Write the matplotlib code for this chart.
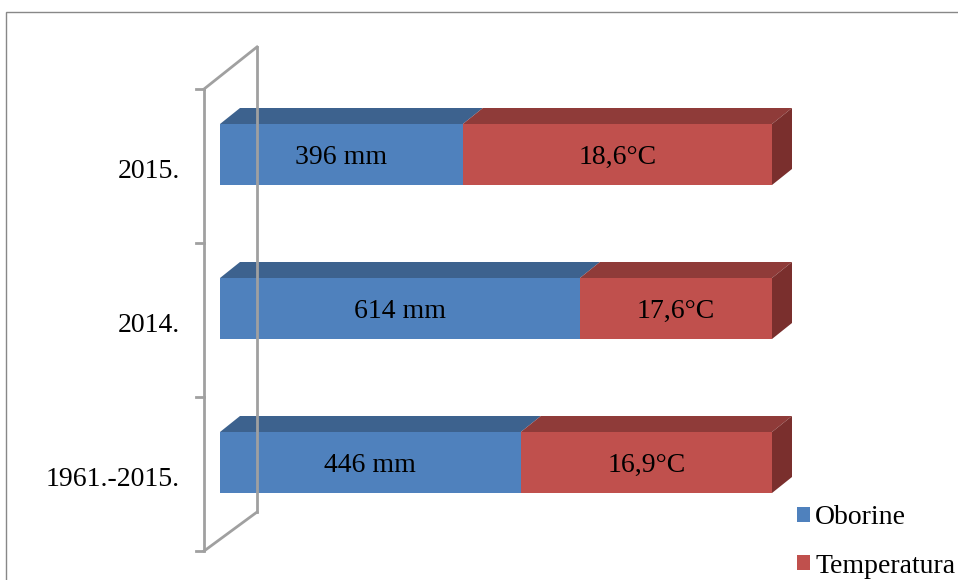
import matplotlib.pyplot as plt
from matplotlib.patches import Polygon, Rectangle, Patch

plt.rcParams['font.family'] = ['Liberation Serif', 'DejaVu Serif']

# data (bottom to top), shares of the 100% stacked bar
categories = ['1961.-2015.', '2014.', '2015.']
oborine_share = [0.545, 0.652, 0.44]
oborine_labels = ['446 mm', '614 mm', '396 mm']
temp_labels = ['16,9°C', '17,6°C', '18,6°C']
series_names = ['Oborine', 'Temperatura']

blue = ['#4F81BD', '#3D628E', '#3D628E']
red = ['#C0504D', '#8F3B39', '#7A2F2D']
wall_col = '#A0A0A0'

W, H = 958, 580
fig = plt.figure(figsize=(W / 100, H / 100), dpi=100)
ax = fig.add_axes([0, 0, 1, 1])
# pixel mapping: share 0 -> x=220, 1 -> x=772 ; category step = 154 px
x0, x1 = 220, 772
sx = x1 - x0
cy0, step = 462.5, 154
ax.set_xlim(-x0 / sx, (W - x0) / sx)
ax.set_ylim((cy0 - H) / step, cy0 / step)
ax.axis('off')

bh = 61 / step
dx, dy = 20 / sx, 16 / step

# wall
wfx, wbx = -16 / sx, 37 / sx
wfy = -0.075
bot, top = -0.5 + wfy, len(categories) - 0.5 + wfy
wdy = 39 / step
ax.plot([wfx, wfx], [bot, top], color=wall_col, lw=2, solid_capstyle='butt')
ax.plot([wbx, wbx], [bot + wdy, top + 1.08 * wdy], color=wall_col, lw=2)
ax.plot([wfx, wbx], [top, top + 1.08 * wdy], color=wall_col, lw=2)
ax.plot([wfx, wbx], [bot, bot + wdy], color=wall_col, lw=2)
for i in range(len(categories) + 1):
    yy = -0.5 + i + wfy
    ax.plot([wfx - 8 / sx, wfx], [yy, yy], color=wall_col, lw=2)


def box(x_left, x_right, yc, cols, side=False):
    yb, yt = yc - bh / 2, yc + bh / 2
    ax.add_patch(Polygon([(x_left, yt), (x_right, yt), (x_right + dx, yt + dy), (x_left + dx, yt + dy)],
                         closed=True, fc=cols[1], ec='none'))
    if side:
        ax.add_patch(Polygon([(x_right, yb), (x_right + dx, yb + dy), (x_right + dx, yt + dy), (x_right, yt)],
                             closed=True, fc=cols[2], ec='none'))
    ax.add_patch(Rectangle((x_left, yb), x_right - x_left, bh, fc=cols[0], ec='none'))


for i, cat in enumerate(categories):
    s = oborine_share[i]
    box(0, s, i, blue)
    box(s, 1, i, red, side=True)
    ax.text(s / 2, i - 0.02, oborine_labels[i], ha='center', va='center', fontsize=20)
    ax.text((s + 1) / 2, i - 0.02, temp_labels[i], ha='center', va='center', fontsize=20)
    ax.text(-40 / sx, i - 0.11, cat, ha='right', va='center', fontsize=20)

# outer frame
fig.patches.append(Rectangle((5.5 / W, -0.1), 1.2, (H - 11.5) / H + 0.1,
                             transform=fig.transFigure, fill=False, ec='#888888', lw=1))

handles = [Patch(fc=blue[0]), Patch(fc=red[0])]
leg = fig.legend(handles, series_names, loc='upper left', bbox_to_anchor=(797 / W, 1 - 505 / H),
                 frameon=False, fontsize=20, handlelength=0.45, handleheight=0.45,
                 handletextpad=0.2, labelspacing=0.85, borderaxespad=0, borderpad=0)

fig.savefig('out.png', dpi=100)
